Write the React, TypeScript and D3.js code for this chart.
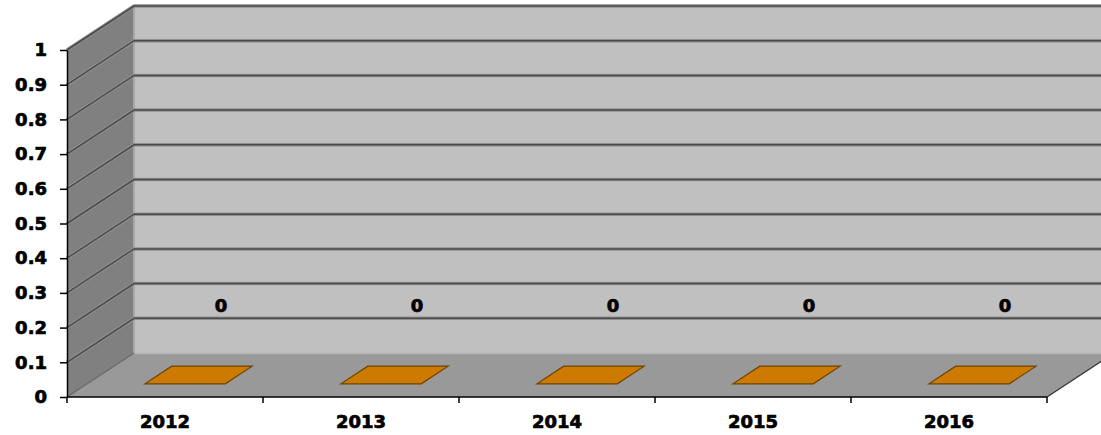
import React, { useEffect, useRef } from "react";
import * as d3 from "d3";

const years = ["2012", "2013", "2014", "2015", "2016"];
const values = [0, 0, 0, 0, 0];
const yTicks = [0, 0.1, 0.2, 0.3, 0.4, 0.5, 0.6, 0.7, 0.8, 0.9, 1];

export default function App() {
  const svgRef = useRef<SVGSVGElement>(null);

  useEffect(() => {
    document.body.style.margin = "0";
    if (!svgRef.current) return;
    const svg = d3.select(svgRef.current);
    svg.selectAll("*").remove();

    const W = 1101, H = 435;
    const left = 67, right = 1047, bottom = 397, top = 50;
    // 3D depth offset (full depth of the floor)
    const DX = 67, DY = -44;
    const font = "'DejaVu Sans', sans-serif";

    const x = d3.scaleBand<string>().domain(years).range([left, right]).padding(0);
    const y = d3.scaleLinear().domain([0, 1]).range([bottom, top]);
    const depth = (t: number) => [DX * t, DY * t];

    const pts = (p: number[][]) => p.map(d => d.join(",")).join(" ");

    // heavy text, close to Arial Black
    const heavy = (sel: any) => sel
      .attr("font-family", font).attr("font-weight", "bold").attr("font-size", 18)
      .attr("fill", "#000").attr("stroke", "#000").attr("stroke-width", 0.7);

    // Back wall
    svg.append("polygon")
      .attr("points", pts([[left + DX, y(1) + DY], [W + 20, y(1) + DY], [W + 20, y(0) + DY], [left + DX, y(0) + DY]]))
      .attr("fill", "#c0c0c0");

    // Left wall
    svg.append("polygon")
      .attr("points", pts([[left, y(1)], [left + DX, y(1) + DY], [left + DX, y(0) + DY], [left, y(0)]]))
      .attr("fill", "#808080");
    svg.append("line")
      .attr("x1", left + DX).attr("x2", left + DX).attr("y1", y(1) + DY).attr("y2", y(0) + DY)
      .attr("stroke", "#a8a8a8").attr("stroke-width", 2);

    // Floor
    svg.append("polygon")
      .attr("points", pts([[left, y(0)], [right, y(0)], [right + DX, y(0) + DY], [left + DX, y(0) + DY]]))
      .attr("fill", "#999999");
    svg.append("line")
      .attr("x1", left + DX).attr("x2", W + 20).attr("y1", y(0) + DY + 0.5).attr("y2", y(0) + DY + 0.5)
      .attr("stroke", "#b4b4b4").attr("stroke-width", 1.5);
    svg.append("line")
      .attr("x1", right).attr("y1", y(0)).attr("x2", right + DX).attr("y2", y(0) + DY)
      .attr("stroke", "#333").attr("stroke-width", 1.2);

    // Gridlines
    const grid = svg.append("g");
    yTicks.filter(v => v > 0).forEach(v => {
      const gy = y(v);
      const path = `M${left},${gy} L${left + DX},${gy + DY} L${W + 20},${gy + DY}`;
      grid.append("path").attr("d", path).attr("fill", "none")
        .attr("stroke", "#909090").attr("stroke-width", 3.5);
      grid.append("path").attr("d", path).attr("fill", "none")
        .attr("stroke", "#4a4a4a").attr("stroke-width", 1.5);
    });
    // left wall floor edge
    svg.append("line")
      .attr("x1", left).attr("y1", y(0)).attr("x2", left + DX).attr("y2", y(0) + DY)
      .attr("stroke", "#666").attr("stroke-width", 1.2);

    // Bars (zero height, drawn as flat tops on the floor)
    const barW = x.bandwidth() * 0.41;
    const [fx, fy] = depth(0.3);
    const [bx, by] = depth(0.7);
    years.forEach((yr, i) => {
      const cx = (x(yr) as number) + x.bandwidth() / 2;
      const yv = y(values[i]);
      svg.append("polygon")
        .attr("points", pts([
          [cx - barW / 2 + fx, yv + fy],
          [cx + barW / 2 + fx, yv + fy],
          [cx + barW / 2 + bx, yv + by],
          [cx - barW / 2 + bx, yv + by],
        ]))
        .attr("fill", "#cc7a00")
        .attr("stroke", "#6e4300")
        .attr("stroke-width", 1.2);

      // Data label
      svg.append("text")
        .attr("x", cx + 56)
        .attr("y", yv + DY - 41)
        .attr("text-anchor", "middle")
        .call(heavy)
        .text(String(values[i]));
    });

    // Y axis
    const yAxis = svg.append("g")
      .attr("transform", `translate(${left},0)`)
      .call(d3.axisLeft(y).tickValues(yTicks).tickSize(7).tickSizeOuter(0).tickPadding(13)
        .tickFormat(d => String(+d)));
    yAxis.select(".domain").attr("stroke", "#000").attr("stroke-width", 1.5);
    yAxis.selectAll("line").attr("stroke", "#000").attr("stroke-width", 1.5);
    yAxis.selectAll("text").call(heavy);

    // X axis
    const xAxis = svg.append("g");
    xAxis.append("line")
      .attr("x1", left).attr("x2", right).attr("y1", bottom).attr("y2", bottom)
      .attr("stroke", "#000").attr("stroke-width", 1.5);
    const edges = [...years.map(d => x(d) as number), right];
    edges.forEach(ex => {
      xAxis.append("line")
        .attr("x1", ex).attr("x2", ex).attr("y1", bottom).attr("y2", bottom + 6)
        .attr("stroke", "#000").attr("stroke-width", 1.5);
    });
    years.forEach(yr => {
      xAxis.append("text")
        .attr("x", (x(yr) as number) + x.bandwidth() / 2)
        .attr("y", bottom + 31)
        .attr("text-anchor", "middle")
        .call(heavy)
        .text(yr);
    });

    svg.attr("width", W).attr("height", H);
  }, []);

  return <svg ref={svgRef} width={1101} height={435} style={{ display: "block", background: "#fff" }} />;
}
